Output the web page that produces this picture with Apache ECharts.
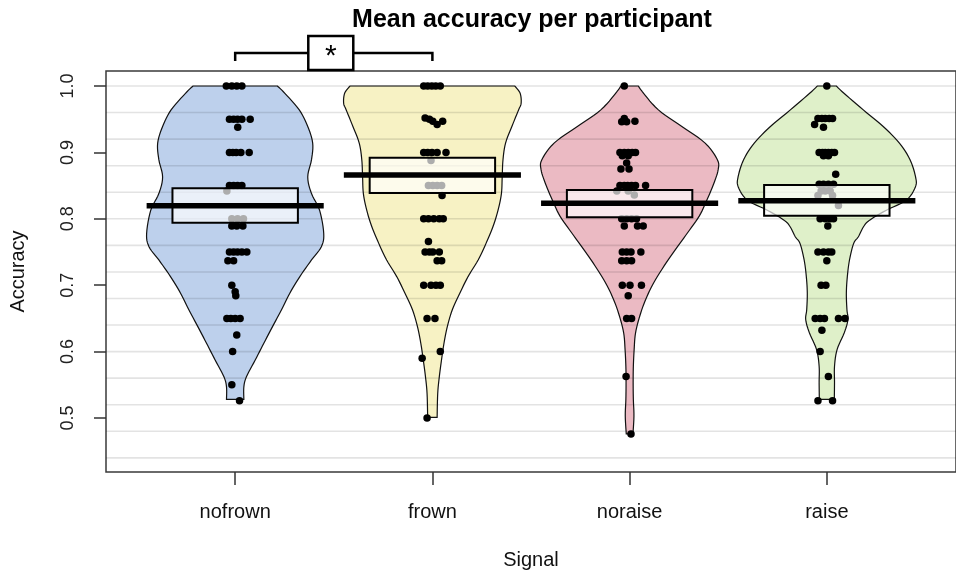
<!DOCTYPE html>
<html>
<head>
<meta charset="utf-8">
<script src="https://cdn.jsdelivr.net/npm/echarts@6/dist/echarts.min.js"></script>
<style>html,body{margin:0;padding:0;background:#fff}#c{width:956px;height:576px}</style>
</head>
<body>
<div id="c"></div>
<script>
// ---------- data ----------
const categories = ['nofrown', 'frown', 'noraise', 'raise'];
const yTicks = [0.5, 0.6, 0.7, 0.8, 0.9, 1.0];
const gridValues = [0.44, 0.48, 0.52, 0.56, 0.60, 0.64, 0.68, 0.72, 0.76, 0.80, 0.84, 0.88, 0.92, 0.96, 1.00];

const means  = [0.8197, 0.866, 0.8233, 0.8273];
const ciLow  = [0.794, 0.839, 0.8022, 0.8047];
const ciHigh = [0.846, 0.892, 0.8434, 0.851];

// participant means (value) and horizontal jitter (x offset from bean centre)
const nofrownVals = [1.0,1.0,1.0,1.0, 0.95,0.95,0.95,0.95,0.95,0.938, 0.9,0.9,0.9,0.9,0.9, 0.85,0.85,0.85,0.85,0.842, 0.8,0.8,0.8, 0.789,0.789,0.789, 0.75,0.75,0.75,0.75,0.75, 0.737,0.737, 0.7, 0.69,0.684, 0.65,0.65,0.65,0.65, 0.625, 0.6, 0.55, 0.526];
const nofrownJit  = [-0.045,-0.017,0.008,0.034, -0.029,-0.008,0.012,0.034,0.076,0.013, -0.029,-0.012,0.005,0.029,0.071, -0.029,-0.008,0.012,0.034,-0.042, -0.017,0.012,0.042, -0.017,0.008,0.039, -0.029,-0.008,0.012,0.034,0.059, -0.037,-0.008, -0.017, 0,0.003, -0.042,-0.022,0,0.025, 0.008, -0.013, -0.017, 0.022];

const frownVals = [1,1,1,1,1, 0.952,0.95,0.947,0.942,0.947, 0.9,0.9,0.9,0.9,0.9, 0.888, 0.85,0.85,0.85,0.85, 0.835, 0.8,0.8,0.8,0.8,0.8, 0.766, 0.75,0.75,0.75,0.75, 0.737,0.737, 0.7,0.7,0.7,0.7, 0.65,0.65, 0.6, 0.59, 0.5];
const frownJit  = [-0.044,-0.024,-0.003,0.017,0.040, -0.037,-0.015,0.002,0.024,0.052, -0.044,-0.024,-0.002,0.024,0.069, -0.007, -0.020,0.002,0.024,0.047, 0.049, -0.044,-0.020,0.007,0.035,0.055, -0.020, -0.037,-0.015,0.002,0.035, 0.024,0.047, -0.044,-0.007,0.018,0.040, -0.027,0.013, 0.040, -0.052, -0.027];

const noraiseVals = [1.0, 0.946,0.951,0.946,0.947, 0.9,0.9,0.9,0.9,0.9, 0.895,0.895, 0.884, 0.875,0.875, 0.85,0.85,0.85,0.85,0.85,0.85, 0.842,0.842, 0.836, 0.8,0.8,0.8,0.8, 0.789,0.789,0.789, 0.75,0.75,0.75,0.75, 0.737,0.737,0.737, 0.7,0.7,0.7, 0.684, 0.65,0.65, 0.5625, 0.476];
const noraiseJit  = [-0.027, -0.040,-0.027,-0.015,0.027, -0.049,-0.027,-0.007,0.013,0.030, -0.037,-0.007, -0.015, -0.044,-0.003, -0.049,-0.027,-0.010,0.010,0.030,0.081, -0.065,-0.007, 0.024, -0.040,-0.015,0.010,0.035, -0.027,0.040,0.069, -0.037,-0.015,0.007,0.057, -0.040,-0.015,0.010, -0.037,0.002,0.060, -0.007, -0.015,0.010, -0.018, 0.007];

const raiseVals = [1.0, 0.951,0.951,0.951,0.951,0.951, 0.942, 0.938, 0.9,0.9,0.9,0.9,0.9,0.9, 0.895,0.895, 0.867, 0.852,0.852,0.852,0.852, 0.842,0.842,0.842, 0.835,0.835, 0.82, 0.8,0.8,0.8,0.8, 0.789, 0.75,0.75,0.75,0.75, 0.737, 0.7,0.7, 0.65,0.65,0.65,0.65,0.65, 0.632, 0.6, 0.5625, 0.526,0.526];
const raiseJit  = [0, -0.045,-0.025,-0.008,0.012,0.029, -0.062, -0.017, -0.039,-0.022,-0.008,0.008,0.025,0.039, -0.017,0.008, 0.045, -0.039,-0.017,0.008,0.034, -0.029,-0.008,0.017, -0.045,0.029, 0.059, -0.034,-0.008,0.017,0.034, 0.005, -0.045,-0.017,0.008,0.025, 0, -0.029,-0.005, -0.059,-0.034,-0.012,0.059,0.092, -0.025, -0.034, 0.008, -0.045,0.029];

// violin outlines: accuracy levels and half-widths (x-axis units)
const nofrownViolinY = [1.0, 0.989, 0.964, 0.939, 0.914, 0.889, 0.863, 0.838, 0.813, 0.778, 0.758, 0.738, 0.713, 0.688, 0.663, 0.638, 0.613, 0.587, 0.562, 0.547, 0.528];
const nofrownViolinW = [0.214, 0.252, 0.325, 0.368, 0.393, 0.387, 0.368, 0.387, 0.428, 0.449, 0.437, 0.387, 0.328, 0.277, 0.235, 0.190, 0.146, 0.101, 0.057, 0.044, 0.044];
const frownViolinY = [1.0, 0.989, 0.974, 0.964, 0.939, 0.914, 0.889, 0.863, 0.838, 0.813, 0.788, 0.763, 0.738, 0.713, 0.688, 0.663, 0.638, 0.613, 0.587, 0.562, 0.537, 0.501];
const frownViolinW = [0.418, 0.445, 0.450, 0.437, 0.403, 0.371, 0.358, 0.354, 0.350, 0.333, 0.307, 0.272, 0.232, 0.181, 0.139, 0.101, 0.076, 0.059, 0.046, 0.035, 0.027, 0.024];
const noraiseViolinY = [1.0, 0.989, 0.964, 0.939, 0.914, 0.889, 0.874, 0.854, 0.829, 0.804, 0.779, 0.754, 0.729, 0.704, 0.679, 0.654, 0.628, 0.603, 0.578, 0.553, 0.528, 0.503, 0.476];
const noraiseViolinW = [0.044, 0.071, 0.146, 0.265, 0.383, 0.445, 0.449, 0.428, 0.393, 0.353, 0.294, 0.233, 0.175, 0.123, 0.082, 0.052, 0.030, 0.023, 0.019, 0.018, 0.019, 0.022, 0.017];
const raiseViolinY = [1.0, 0.989, 0.964, 0.939, 0.914, 0.889, 0.863, 0.848, 0.828, 0.813, 0.798, 0.788, 0.773, 0.763, 0.738, 0.713, 0.688, 0.663, 0.648, 0.628, 0.603, 0.578, 0.553, 0.528];
const raiseViolinW = [0.048, 0.087, 0.185, 0.286, 0.368, 0.422, 0.450, 0.449, 0.403, 0.302, 0.217, 0.186, 0.160, 0.136, 0.115, 0.104, 0.099, 0.102, 0.107, 0.088, 0.052, 0.039, 0.039, 0.038];

const significance = [[1, 2, '*']];

// ---------- build ----------
const violins = [
  {y: nofrownViolinY, w: nofrownViolinW},
  {y: frownViolinY, w: frownViolinW},
  {y: noraiseViolinY, w: noraiseViolinW},
  {y: raiseViolinY, w: raiseViolinW}
];
const beanColors = ['#bdd0ec', '#f7f2c4', '#ebbac3', '#dff0c9'];
const groupVals = [nofrownVals, frownVals, noraiseVals, raiseVals];
const groupJit = [nofrownJit, frownJit, noraiseJit, raiseJit];
const pointData = [];
groupVals.forEach((vals, g) => vals.forEach((v, k) => pointData.push([g + 1 + groupJit[g][k], v])));

const X_MIN = 0.345, X_MAX = 4.655;
const FONT = "'Liberation Sans', Arial, Helvetica, sans-serif";

// Catmull-Rom smoothing of an outline side (pixel space, drawing only)
function smoothSide(pts, steps) {
  const out = [];
  for (let i = 0; i < pts.length - 1; i++) {
    const p0 = pts[Math.max(i - 1, 0)], p1 = pts[i], p2 = pts[i + 1], p3 = pts[Math.min(i + 2, pts.length - 1)];
    for (let s = 0; s < steps; s++) {
      const t = s / steps, t2 = t * t, t3 = t2 * t;
      const f = (a, b, c, d) => 0.5 * ((2 * b) + (-a + c) * t + (2 * a - 5 * b + 4 * c - d) * t2 + (-a + 3 * b - 3 * c + d) * t3);
      out.push([f(p0[0], p1[0], p2[0], p3[0]), f(p0[1], p1[1], p2[1], p3[1])]);
    }
  }
  out.push(pts[pts.length - 1]);
  return out;
}

const chart = echarts.init(document.getElementById('c'), null, {renderer: 'canvas'});
chart.setOption({
  animation: false,
  backgroundColor: '#fff',
  graphic: [{
    type: 'text', x: 532, y: 20,
    style: {text: 'Mean accuracy per participant', font: 'bold 25px ' + FONT, fill: '#000', textAlign: 'center', textVerticalAlign: 'middle'}
  }],
  grid: {left: 105, top: 71, bottom: 104, right: -4, show: true, borderColor: '#3a3a3a', borderWidth: 1.5, backgroundColor: 'transparent'},
  xAxis: {
    type: 'value', min: X_MIN, max: X_MAX,
    name: 'Signal', nameLocation: 'middle', nameGap: 78,
    nameTextStyle: {fontFamily: FONT, fontSize: 20, color: '#111'},
    axisLine: {show: false},
    splitLine: {show: false},
    axisTick: {show: true, length: 13, customValues: [1, 2, 3, 4], lineStyle: {color: '#333', width: 1.5}},
    axisLabel: {customValues: [1, 2, 3, 4], margin: 30, fontFamily: FONT, fontSize: 20, color: '#111',
      formatter: v => categories[Math.round(v) - 1]}
  },
  yAxis: {
    type: 'value', min: 0.4187, max: 1.0226,
    name: 'Accuracy', nameLocation: 'middle', nameGap: 78, nameRotate: 90,
    nameTextStyle: {fontFamily: FONT, fontSize: 20, color: '#111'},
    axisLine: {show: false},
    splitLine: {show: false},
    axisTick: {show: true, length: 12, customValues: yTicks, lineStyle: {color: '#333', width: 1.5}},
    axisLabel: {customValues: yTicks, rotate: 90, margin: 29, fontFamily: FONT, fontSize: 18, color: '#222',
      formatter: v => v.toFixed(1)}
  },
  series: [
    { // beans
      type: 'custom', z: 1,
      data: categories.map((c, i) => [i + 1]),
      encode: {x: 0},
      renderItem: (params, api) => {
        const i = params.dataIndex, cx = api.value(0), p = violins[i];
        const right = [], left = [];
        for (let k = 0; k < p.y.length; k++) {
          right.push(api.coord([cx + p.w[k], p.y[k]]));
          left.push(api.coord([cx - p.w[k], p.y[k]]));
        }
        const r = smoothSide(right, 6), l = smoothSide(left, 6).reverse();
        return {type: 'polygon', shape: {points: r.concat(l)},
          style: {fill: beanColors[i], stroke: '#111', lineWidth: 1.2}};
      }
    },
    { // horizontal reference lines
      type: 'custom', z: 2, silent: true,
      data: gridValues.map(v => [v]),
      encode: {y: 0},
      renderItem: (params, api) => {
        const v = api.value(0);
        const a = api.coord([X_MIN, v]), b = api.coord([X_MAX, v]);
        return {type: 'line', shape: {x1: a[0], y1: a[1], x2: b[0], y2: b[1]},
          style: {stroke: 'rgba(0,0,0,0.11)', lineWidth: 1.6}};
      }
    },
    { // points
      type: 'scatter', z: 3,
      data: pointData,
      symbol: 'circle', symbolSize: 7.5,
      itemStyle: {color: '#000', opacity: 1}
    },
    { // inference boxes
      type: 'custom', z: 4,
      data: categories.map((c, i) => [i + 1, ciLow[i], ciHigh[i]]),
      encode: {x: 0, y: [1, 2]},
      renderItem: (params, api) => {
        const cx = api.value(0);
        const tl = api.coord([cx - 0.318, api.value(2)]);
        const br = api.coord([cx + 0.318, api.value(1)]);
        return {type: 'rect', shape: {x: tl[0], y: tl[1], width: br[0] - tl[0], height: br[1] - tl[1]},
          style: {fill: 'rgba(255,255,255,0.68)', stroke: '#000', lineWidth: 2}};
      }
    },
    { // mean lines
      type: 'custom', z: 5,
      data: categories.map((c, i) => [i + 1, means[i]]),
      encode: {x: 0, y: 1},
      renderItem: (params, api) => {
        const cx = api.value(0), m = api.value(1);
        const a = api.coord([cx - 0.449, m]), b = api.coord([cx + 0.449, m]);
        return {type: 'line', shape: {x1: a[0], y1: a[1], x2: b[0], y2: b[1]},
          style: {stroke: '#000', lineWidth: 5.5}};
      }
    },
    { // significance bracket
      type: 'custom', z: 6, clip: false,
      data: significance.map(s => [s[0], s[1]]),
      encode: {x: [0, 1]},
      renderItem: (params, api) => {
        const x1 = api.value(0), x2 = api.value(1);
        const yTop = 1.0497, yTick = 1.0377;
        const p1 = api.coord([x1, yTick]), p2 = api.coord([x1, yTop]);
        const p3 = api.coord([x2, yTop]), p4 = api.coord([x2, yTick]);
        const mx = (p2[0] + p3[0]) / 2 - 3, my = p2[1];
        return {type: 'group', children: [
          {type: 'polyline', shape: {points: [p1, p2, p3, p4]}, style: {stroke: '#000', lineWidth: 2.5, fill: null}},
          {type: 'rect', shape: {x: mx - 22.5, y: my - 17, width: 45, height: 34},
            style: {fill: '#fff', stroke: '#000', lineWidth: 2.5}},
          {type: 'text', style: {text: significance[params.dataIndex][2], x: mx, y: my + 4, textAlign: 'center', textVerticalAlign: 'middle',
            font: '30px ' + FONT, fill: '#000'}}
        ]};
      }
    }
  ]
});
</script>
</body>
</html>
